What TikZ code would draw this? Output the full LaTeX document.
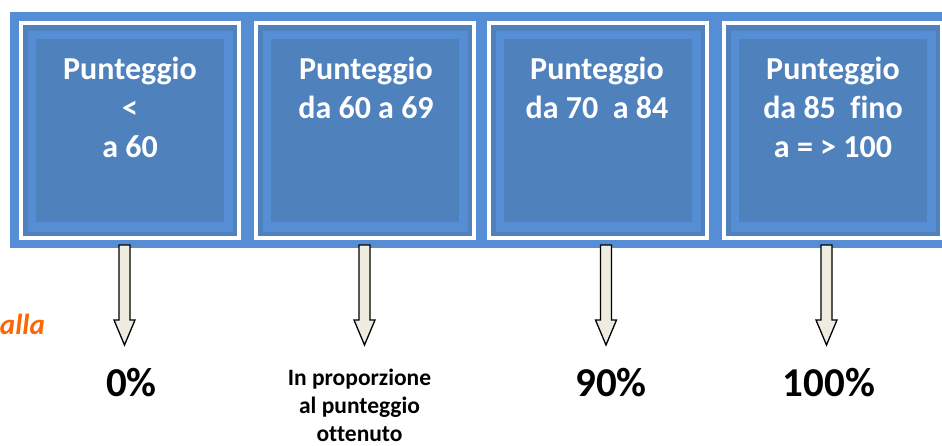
\documentclass[tikz,border=0pt]{standalone}
\usepackage{fontspec}
\setmainfont{Carlito}[Ligatures=NoCommon]
\definecolor{bandblue}{RGB}{85,142,213}
\definecolor{darkblue}{RGB}{79,129,189}
\definecolor{arrowfill}{RGB}{238,236,225}
\definecolor{orangetxt}{RGB}{255,102,0}
\tikzset{
  boxtext/.style={text=white, font=\bfseries\fontsize{32}{39}\selectfont, align=center, inner sep=0pt, anchor=base},
  pct/.style={font=\bfseries\fontsize{41}{48}\selectfont, inner sep=0pt, anchor=base},
  smalllabel/.style={font=\bfseries\fontsize{23.5}{28}\selectfont, align=center, inner sep=0pt, anchor=base},
  blockarrow/.style={draw=black, fill=arrowfill, line width=1.3pt, line join=miter}
}
\newcommand\bkarrow[1]{%
  \draw[blockarrow] (#1) ++(-5.5,0) -- ++(0,75) -- ++(-5,0) -- ++(10.5,25) -- ++(10.5,-25) -- ++(-5,0) -- ++(0,-75) -- cycle;}
\begin{document}
\begin{tikzpicture}[x=1pt,y=-1pt]
\useasboundingbox (0,0) rectangle (942,445);
\fill[bandblue] (10,12) rectangle (960,248);
\foreach \x/\n in {19/1,254/2,487/3,722/4}{
  \fill[white] (\x,21) rectangle ++(222,219);
  \fill[darkblue] (\x+4,25) rectangle (\x+218,236);
  \fill[bandblue] (\x+9,31) rectangle (\x+214,232);
  \fill[darkblue] (\x+17,39) rectangle (\x+205,222);
}
% base anchor of a multi-line node = baseline of its last line
\node[boxtext] (t1) at (130,157) {Punteggio\\<\\a 60};
\node[boxtext] (t2) at (366,118) {Punteggio\\da 60 a 69};
\node[boxtext] (t3) at (597,118) {Punteggio\\da 70~ a 84};
\node[boxtext] (t4) at (833,157) {Punteggio\\da 85~ fino\\a = > 100};
\coordinate (a1) at (124.5,245);
\coordinate (a2) at (364.5,245);
\coordinate (a3) at (606,245);
\coordinate (a4) at (826.5,245);
\bkarrow{a1}
\bkarrow{a2}
\bkarrow{a3}
\bkarrow{a4}
\node[pct] (p1) at (131.5,396) {0\%};
\node[smalllabel] (p2) at (359.5,441) {In proporzione\\al punteggio\\ottenuto};
\node[pct] (p3) at (611,396) {90\%};
\node[pct] (p4) at (829,396) {100\%};
\node[anchor=base east, inner sep=0pt, text=orangetxt, font=\bfseries\itshape\fontsize{29}{34}\selectfont] (alla) at (45,334) {alla};
\end{tikzpicture}
\end{document}
